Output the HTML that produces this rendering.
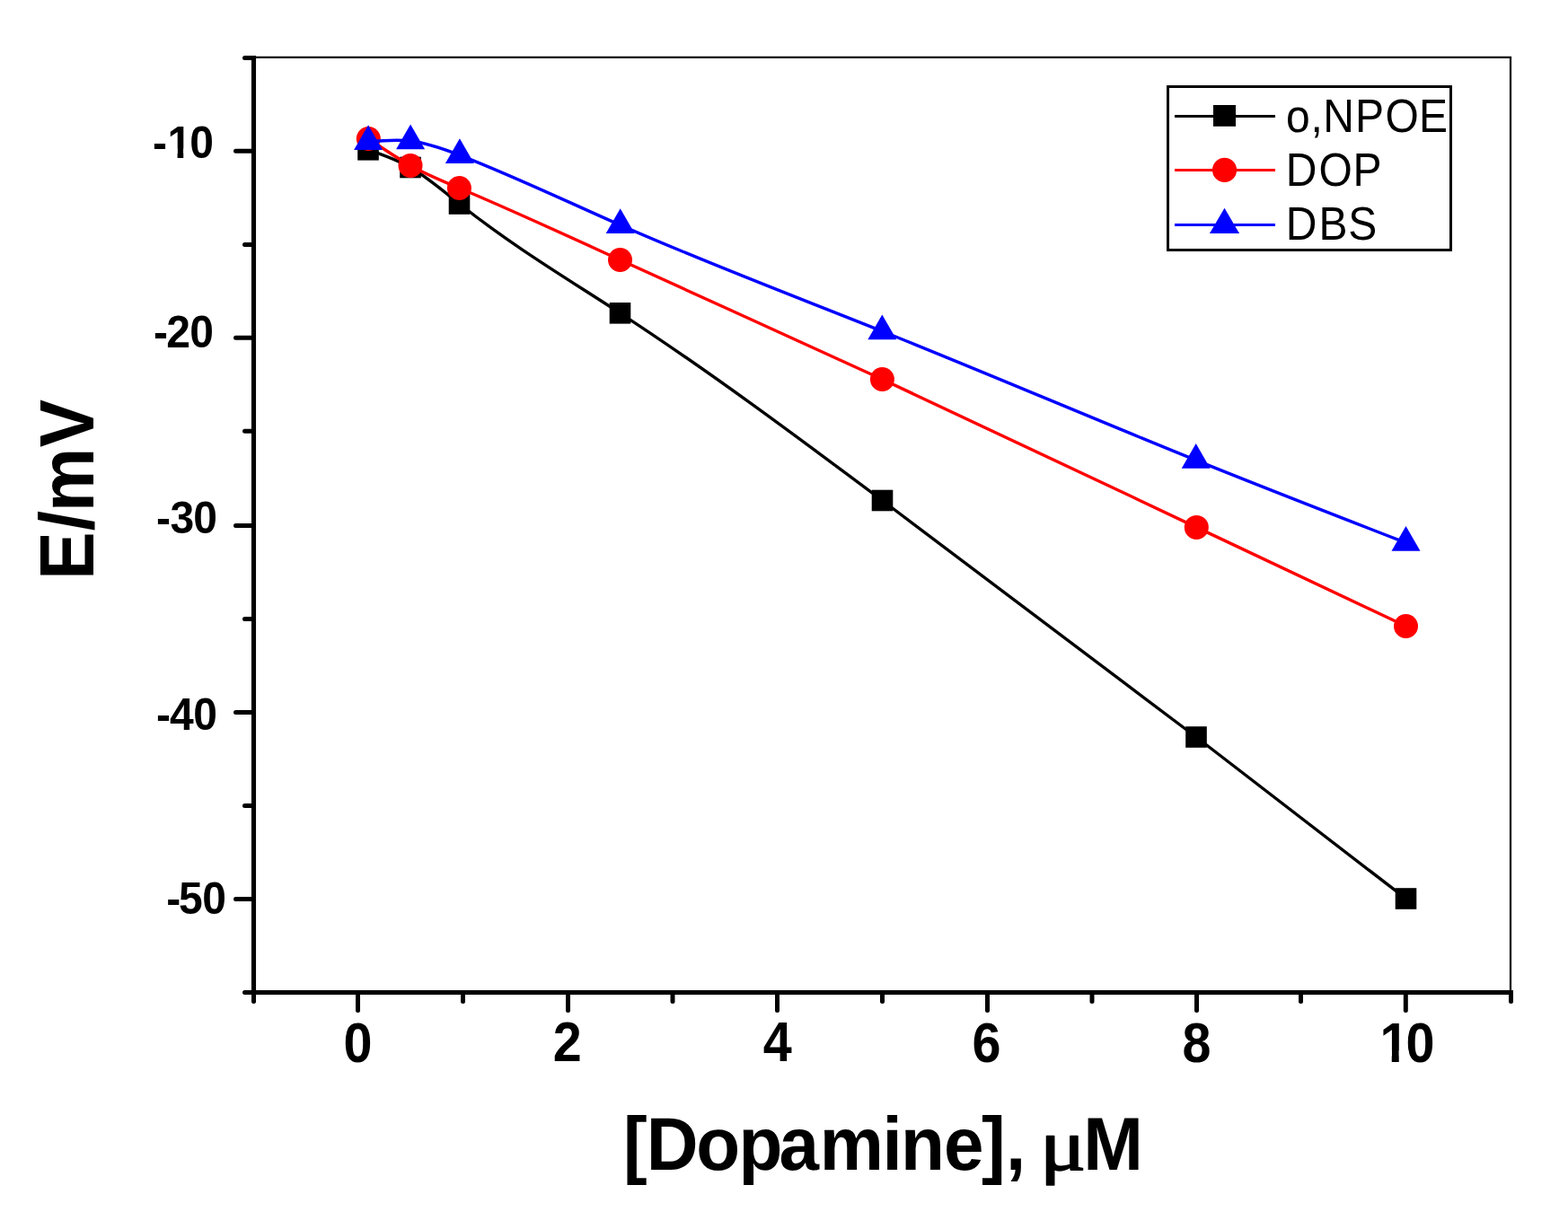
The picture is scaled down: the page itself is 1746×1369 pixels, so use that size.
<!DOCTYPE html>
<html lang="en"><head><meta charset="utf-8"><title>E/mV vs [Dopamine], μM</title>
<style>html,body{margin:0;padding:0;background:#fff}body{width:1746px;height:1369px;overflow:hidden}svg{display:block}text{font-family:"Liberation Sans",sans-serif;fill:#000;white-space:pre}.b{font-weight:bold}.r{font-weight:normal}.mu{font-family:"Liberation Serif",serif;font-weight:normal}</style></head><body>
<svg width="1746" height="1369" viewBox="0 0 1746 1369">
<defs><clipPath id="c1" clipPathUnits="userSpaceOnUse"><path clip-rule="evenodd" d="M-9000,-9000H9000V9000H-9000Z M187.37,-9.6H197.58V2.4H187.37Z M204.24,-9.6H213.29V2.4H204.24Z"/></clipPath><clipPath id="c2" clipPathUnits="userSpaceOnUse"><path clip-rule="evenodd" d="M-9000,-9000H9000V9000H-9000Z M1537.53,-11.5H1549.75V2.88H1537.53Z M1557.73,-11.5H1568.58V2.88H1557.73Z"/></clipPath></defs>
<rect width="1746" height="1369" fill="#fff"/>
<g fill="none" stroke="#000">
<line x1="282.5" y1="63.9" x2="1683.1" y2="63.9" stroke-width="2.4"/>
<line x1="1682" y1="63.9" x2="1682" y2="1105.5" stroke-width="2.2"/>
<line x1="282.5" y1="61.9" x2="282.5" y2="1108" stroke-width="5.1"/>
<line x1="280" y1="1105.5" x2="1685" y2="1105.5" stroke-width="5"/>
</g>
<g stroke="#000" stroke-width="5" stroke-linecap="round">
<line x1="262.5" y1="168.3" x2="282.5" y2="168.3"/>
<line x1="262.5" y1="376.3" x2="282.5" y2="376.3"/>
<line x1="262.5" y1="585.5" x2="282.5" y2="585.5"/>
<line x1="262.5" y1="793.5" x2="282.5" y2="793.5"/>
<line x1="262.5" y1="1001.5" x2="282.5" y2="1001.5"/>
<line x1="272.5" y1="64.4" x2="282.5" y2="64.4"/>
<line x1="272.5" y1="272.4" x2="282.5" y2="272.4"/>
<line x1="272.5" y1="480.3" x2="282.5" y2="480.3"/>
<line x1="272.5" y1="689.5" x2="282.5" y2="689.5"/>
<line x1="272.5" y1="897.5" x2="282.5" y2="897.5"/>
<line x1="272.5" y1="1105.5" x2="282.5" y2="1105.5"/>
<line x1="398.5" y1="1105.5" x2="398.5" y2="1125.5"/>
<line x1="632.5" y1="1105.5" x2="632.5" y2="1125.5"/>
<line x1="865.5" y1="1105.5" x2="865.5" y2="1125.5"/>
<line x1="1099.5" y1="1105.5" x2="1099.5" y2="1125.5"/>
<line x1="1332.5" y1="1105.5" x2="1332.5" y2="1125.5"/>
<line x1="1565.3" y1="1105.5" x2="1565.3" y2="1125.5"/>
<line x1="282.5" y1="1105.5" x2="282.5" y2="1115.5"/>
<line x1="515.5" y1="1105.5" x2="515.5" y2="1115.5"/>
<line x1="749" y1="1105.5" x2="749" y2="1115.5"/>
<line x1="982.5" y1="1105.5" x2="982.5" y2="1115.5"/>
<line x1="1216" y1="1105.5" x2="1216" y2="1115.5"/>
<line x1="1448.5" y1="1105.5" x2="1448.5" y2="1115.5"/>
<line x1="1682.5" y1="1105.5" x2="1682.5" y2="1115.5"/>
</g>
<text class="b" font-size="48" transform="translate(0,175.7) scale(1,1.05)" x="169.98 186.41 211.19" y="0" clip-path="url(#c1)">-10</text>
<text class="b" font-size="48" transform="translate(0,386.7) scale(1,1.05)" x="171.08 185.28 211.19" y="0">-20</text>
<text class="b" font-size="48" transform="translate(0,593.5) scale(1,1.05)" x="173.98 189.47 215.19" y="0">-30</text>
<text class="b" font-size="48" transform="translate(0,813.4) scale(1,1.05)" x="173.98 188.92 215.19" y="0">-40</text>
<text class="b" font-size="48" transform="translate(0,1017.7) scale(1,1.05)" x="185.13 199.08 225.19" y="0">-50</text>
<text class="b" font-size="57.5" transform="translate(0,1182.7) scale(1,1.08)" x="382.55" y="0">0</text>
<text class="b" font-size="57.5" transform="translate(0,1182.2) scale(1,1.08)" x="615.72" y="0">2</text>
<text class="b" font-size="57.5" transform="translate(0,1182.2) scale(1,1.08)" x="849.68" y="0">4</text>
<text class="b" font-size="57.5" transform="translate(0,1182.7) scale(1,1.08)" x="1082.55" y="0">6</text>
<text class="b" font-size="57.5" transform="translate(0,1182.7) scale(1,1.08)" x="1316.48" y="0">8</text>
<text class="b" font-size="57.5" transform="translate(0,1182.7) scale(1,1.08)" x="1536.38 1565.6" y="0" clip-path="url(#c2)">10</text>
<text class="b" font-size="80" transform="translate(0,1303) scale(1,1.05)" x="694.12 719.67 775.17 822.62 867.53 912.83 982.43 1002.91 1050.96 1092.99 1119.95 1142.17 1157.96 1206.18" y="0">[Dopamine], <tspan class="mu" font-size="76.8" textLength="51.22" lengthAdjust="spacingAndGlyphs" stroke="#000" stroke-width="1.6" stroke-linejoin="round">μ</tspan>M</text>
<text class="b" font-size="80" transform="translate(104.2,0) rotate(-90) scale(1,1.07)" x="-645.69 -591.31 -570.07 -498.33" y="0">E/mV</text>
<path fill="none" stroke="#000" stroke-width="3.4" d="M410,166.8 C425.67,172.12 441.33,177.44 457,186.5 C475.17,197.01 493.33,212.56 511.5,227 C571.17,274.43 630.83,309.91 690.5,348.8 C787.83,412.24 885.17,484.76 982.5,557.5 C1099,644.56 1215.5,731.94 1332,821 C1409.83,880.5 1487.67,940.75 1565.5,1001"/>
<rect x="398.2" y="155" width="23.6" height="23.6" fill="#000"/>
<rect x="445.2" y="174.7" width="23.6" height="23.6" fill="#000"/>
<rect x="499.7" y="215.2" width="23.6" height="23.6" fill="#000"/>
<rect x="678.7" y="337" width="23.6" height="23.6" fill="#000"/>
<rect x="970.7" y="545.7" width="23.6" height="23.6" fill="#000"/>
<rect x="1320.2" y="809.2" width="23.6" height="23.6" fill="#000"/>
<rect x="1553.7" y="989.2" width="23.6" height="23.6" fill="#000"/>
<path fill="none" stroke="#f00" stroke-width="3.4" d="M410.3,154.5 C425.87,165.12 441.43,175.75 457,184.4 C475.13,194.48 493.27,201.87 511.4,209.5 C571.1,234.61 630.8,262.22 690.5,289.5 C787.8,333.97 885.1,377.57 982.4,422.5 C1099.03,476.36 1215.67,532.12 1332.3,587.4 C1410.03,624.24 1487.77,660.87 1565.5,697.5"/>
<circle cx="410.3" cy="154.5" r="13.5" fill="#f00"/>
<circle cx="457" cy="184.4" r="13.5" fill="#f00"/>
<circle cx="511.4" cy="209.5" r="13.5" fill="#f00"/>
<circle cx="690.5" cy="289.5" r="13.5" fill="#f00"/>
<circle cx="982.4" cy="422.5" r="13.5" fill="#f00"/>
<circle cx="1332.3" cy="587.4" r="13.5" fill="#f00"/>
<circle cx="1565.5" cy="697.5" r="13.5" fill="#f00"/>
<path fill="none" stroke="#00f" stroke-width="3.4" d="M410.1,157.8 C425.77,156.46 441.43,155.13 457.1,157 C475.37,159.18 493.63,165.73 511.9,172.8 C571.5,195.86 631.1,224.45 690.7,250.7 C787.9,293.51 885.1,330.11 982.3,369 C1098.77,415.6 1215.23,465.51 1331.7,512.6 C1409.63,544.11 1487.57,574.35 1565.5,604.6"/>
<polygon points="410.1,139.27 426.1,167.07 394.1,167.07" fill="#00f"/>
<polygon points="457.1,138.47 473.1,166.27 441.1,166.27" fill="#00f"/>
<polygon points="511.9,154.27 527.9,182.07 495.9,182.07" fill="#00f"/>
<polygon points="690.7,232.17 706.7,259.97 674.7,259.97" fill="#00f"/>
<polygon points="982.3,350.47 998.3,378.27 966.3,378.27" fill="#00f"/>
<polygon points="1331.7,494.07 1347.7,521.87 1315.7,521.87" fill="#00f"/>
<polygon points="1565.5,586.07 1581.5,613.87 1549.5,613.87" fill="#00f"/>
<rect x="1300.5" y="96.5" width="315" height="182" fill="#fff" stroke="#000" stroke-width="3"/>
<line x1="1308" y1="129.5" x2="1420" y2="129.5" stroke="#000" stroke-width="3"/>
<rect x="1351" y="117" width="25" height="23.8" fill="#000"/>
<text class="r" font-size="48" transform="translate(0,146.5) scale(1,1.09)" x="1431.98 1459.58 1473.16 1509.11 1542.47 1580.1" y="0">o,NPOE</text>
<line x1="1308" y1="189.5" x2="1420" y2="189.5" stroke="#f00" stroke-width="3"/>
<circle cx="1363.55" cy="189.4" r="13.55" fill="#f00"/>
<text class="r" font-size="48" transform="translate(0,206.5) scale(1,1.09)" x="1431.72 1468.39 1506.41" y="0">DOP</text>
<line x1="1308" y1="250.5" x2="1420" y2="250.5" stroke="#00f" stroke-width="3"/>
<polygon points="1363.5,231.8 1380.1,260.1 1346.9,260.1" fill="#00f"/>
<text class="r" font-size="48" transform="translate(0,266.5) scale(1,1.09)" x="1431.72 1468.46 1501.38" y="0">DBS</text>
</svg></body></html>
